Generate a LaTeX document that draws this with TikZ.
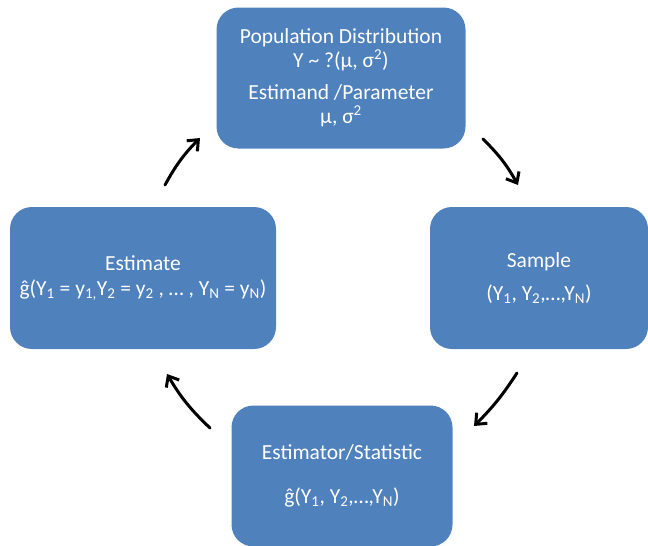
\documentclass[tikz,border=0pt]{standalone}
\usepackage{fontspec}
\setmainfont{Carlito}
\usetikzlibrary{arrows.meta}

\definecolor{boxblue}{RGB}{79,129,189}

\begin{document}
\begin{tikzpicture}[x=1pt,y=-1pt,line join=round,line cap=round]

  \tikzset{
    stagebox/.style={rectangle,rounded corners=22pt,fill=boxblue,text=white,
      align=center,font=\fontsize{21.5}{23.5}\selectfont,inner sep=0pt},
    cyclearrow/.style={line width=3pt,-{Straight Barb[length=9pt,width=15pt,line width=3pt]}}
  }

  \useasboundingbox (0,0) rectangle (648,546);

  % ---- stages ----
  \node[stagebox,minimum width=249pt,minimum height=141pt] (popdist) at (341,78)
    {Population Distribution\\
     Y \textasciitilde{} ?(μ, σ\textsuperscript{2})\\[9pt]
     Estimand /Parameter\\
     μ, σ\textsuperscript{2}};

  \node[stagebox,minimum width=218pt,minimum height=142pt] (sample) at (539,278)
    {Sample\\[10pt]
     (Y\textsubscript{1}, Y\textsubscript{2},…,Y\textsubscript{N})};

  \node[stagebox,minimum width=221pt,minimum height=141pt] (estimator) at (342,476)
    {Estimator/Statistic\\[20pt]
     ĝ(Y\textsubscript{1}, Y\textsubscript{2},…,Y\textsubscript{N})};

  \node[stagebox,minimum width=266pt,minimum height=142pt] (estimate) at (143,278)
    {Estimate\\[1pt]
     ĝ(Y\textsubscript{1} = y\textsubscript{1,}Y\textsubscript{2} = y\textsubscript{2} , … , Y\textsubscript{N} = y\textsubscript{N})};

  % ---- arrow ends ----
  \coordinate (a1s) at (165,185);
  \coordinate (a1e) at (200,138);
  \coordinate (a2s) at (483,139);
  \coordinate (a2e) at (518,185);
  \coordinate (a3s) at (517,373);
  \coordinate (a3e) at (474,426);
  \coordinate (a4s) at (210,428);
  \coordinate (a4e) at (167,374);

  % ---- cycle arrows ----
  \draw[cyclearrow] (a1s) to[bend left=8] (a1e);
  \draw[cyclearrow] (a2s) to[bend left=8] (a2e);
  \draw[cyclearrow] (a3s) to[bend left=6] (a3e);
  \draw[cyclearrow] (a4s) to[bend left=8] (a4e);

\end{tikzpicture}
\end{document}
